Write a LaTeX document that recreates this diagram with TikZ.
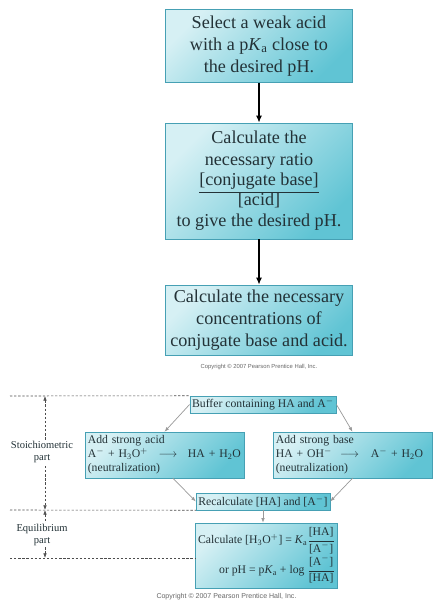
\documentclass[tikz,border=0pt]{standalone}
\usepackage{amsmath}
\usepackage{fontspec}
\setmainfont{Liberation Serif}
\newfontfamily\crfont{Liberation Sans}
\usepackage{xcolor}
\usetikzlibrary{positioning, arrows.meta, shadows}
\definecolor{boxlight}{RGB}{214,240,244}
\definecolor{boxdark}{RGB}{96,196,212}
\definecolor{boxline}{RGB}{70,160,180}
\definecolor{ink}{RGB}{35,50,55}
\newcommand{\chsub}[1]{\ensuremath{_{\text{#1}}}}
\newcommand{\chsup}[1]{\ensuremath{^{#1}}}
\newcommand{\pKa}{p\textit{K}\chsub{a}}

\begin{document}
\begin{tikzpicture}[on grid, text=ink,
  panel/.style={draw=boxline, line width=0.4pt, top color=boxlight, bottom color=boxdark, shading angle=45, drop shadow={shadow xshift=0.8pt, shadow yshift=-0.8pt, fill=black!60, opacity=0.5}, inner sep=2pt, align=center},
  bigpanel/.style={panel, minimum width=5.61cm, font=\fontsize{15.5}{18.5}\selectfont},
  smallpanel/.style={panel, font=\fontsize{10}{12}\selectfont},
  flow/.style={-{Latex[length=6pt,width=5pt]}, line width=1.4pt, black},
  feed/.style={-{Latex[length=4pt,width=3pt]}, line width=0.6pt, gray!80},
  guide/.style={dash pattern=on 2pt off 1.5pt, line width=0.5pt, black!70},
  span/.style={guide, {Latex[length=4pt,width=3pt]}-{Latex[length=4pt,width=3pt]}},
  side/.style={fill=white, align=center, inner sep=1pt, font=\fontsize{9}{11}\selectfont},
  credit/.style={font=\crfont\fontsize{5}{6}\selectfont, text=black!60}]
   \useasboundingbox (0,0) rectangle (12.99,-18.06);

   \node[bigpanel, minimum height=2.19cm] (box_1) at (7.77,-1.38) {Select a weak acid\\with a \pKa{} close to\\the desired pH.};
   \node[bigpanel, minimum height=3.48cm] (box_2) [below=4.05cm of box_1] {Calculate the\\necessary ratio\\[-1pt]\underline{[conjugate base]}\\[-2pt]{}[acid]\\to give the desired pH.};
   \node[bigpanel, minimum height=2.1cm] (box_3) [below=4.17cm of box_2] {Calculate the necessary\\concentrations of\\conjugate base and acid.};
   \node[credit] (cr_1) [below=1.41cm of box_3] {Copyright \textcopyright\ 2007 Pearson Prentice Hall, Inc.};

   \node[smallpanel, minimum width=4.38cm, minimum height=0.51cm] (buf) at (7.89,-12.135) {Buffer containing HA and A\chsup{-}};
   \node[smallpanel, align=left, text width=4.6cm, minimum width=4.77cm, minimum height=1.38cm] (acid) [below left=1.515cm and 2.955cm of buf] {Add strong acid\\A\chsup{-} + H\chsub{3}O\chsup{+}\hspace{0.9em}$\longrightarrow$\hspace{0.9em}HA + H\chsub{2}O\\(neutralization)};
   \node[smallpanel, align=left, text width=4.6cm, minimum width=4.77cm, minimum height=1.38cm] (base) [below right=1.515cm and 2.685cm of buf] {Add strong base\\HA + OH\chsup{-}\hspace{0.7em}$\longrightarrow$\hspace{1em}A\chsup{-} + H\chsub{2}O\\(neutralization)};
   \node[smallpanel, minimum width=3.99cm, minimum height=0.51cm] (recalc) [below=2.91cm of buf] {Recalculate [HA] and [A\chsup{-}]};
   \node[smallpanel, align=right, minimum width=4.2cm, minimum height=1.95cm] (calc) [below right=1.62cm and 0.105cm of recalc] {Calculate [H\chsub{3}O\chsup{+}] = \textit{K}\chsub{a}$\dfrac{\text{[HA]}}{\text{[A}^{-}\text{]}}$\\or pH = \pKa{} + log $\dfrac{\text{[A}^{-}\text{]}}{\text{[HA]}}$};
   \node[credit, font=\crfont\fontsize{6}{7}\selectfont] (cr_2) [below left=1.245cm and 1.2cm of calc] {Copyright \textcopyright\ 2007 Pearson Prentice Hall, Inc.};

   \coordinate (d_1) at (0.3,-11.88);
   \coordinate (d_2) at (0.3,-15.3);
   \coordinate (d_3) at (0.3,-16.74);
   \coordinate (v_1) at (1.35,-11.88);
   \coordinate (v_2) at (1.35,-15.3);
   \coordinate (v_3) at (1.35,-16.74);

   \draw[guide] (d_1) -- (buf.north west);
   \draw[guide] (d_2) -- (recalc.south west);
   \draw[guide] (d_3) -- (d_3 -| calc.west);
   \draw[span] (v_1) -- (v_2);
   \draw[span] (v_2) -- (v_3);
   \node[side] (stoich) at (1.26,-13.56) {Stoichiometric\\part};
   \node[side] (equil) at (1.26,-16.05) {Equilibrium\\part};

   \path[flow]
   (box_1) edge (box_2)
   (box_2) edge (box_3)
    ;
   \path[feed]
   (buf.west) edge (acid.north)
   (buf.east) edge (base.north)
   (acid.-70) edge (recalc.west)
   (base.south) edge (recalc.east)
   (recalc.south) edge (recalc.south |- calc.north)
    ;
\end{tikzpicture}
\end{document}
